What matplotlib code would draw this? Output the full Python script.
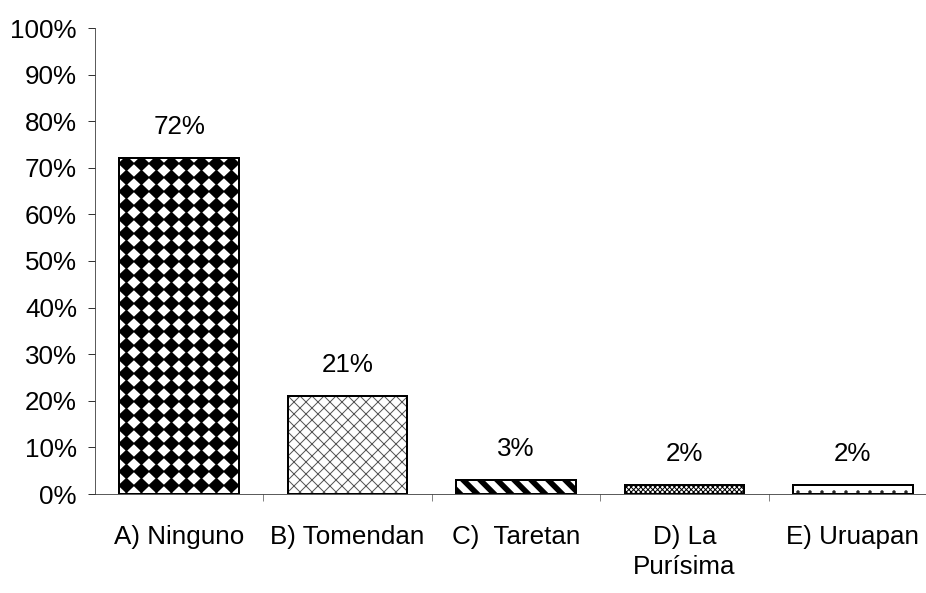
import numpy as np
import matplotlib
matplotlib.use('Agg')
import matplotlib.pyplot as plt
from matplotlib.collections import PolyCollection
from matplotlib.ticker import FuncFormatter

plt.rcParams['font.family'] = ['Liberation Sans', 'DejaVu Sans']
plt.rcParams['hatch.linewidth'] = 1.0

categories = ['A) Ninguno', 'B) Tomendan', 'C)  Taretan', 'D) La\nPurísima', 'E) Uruapan']
values = [72, 21, 3, 2, 2]
value_labels = ['72%', '21%', '3%', '2%', '2%']

W, H = 926, 593
fig = plt.figure(figsize=(W/72, H/72), dpi=72)
# axes: y axis at x=95px, zero line at y=494px, 100% at y=28px
ax = fig.add_axes([95/W, 99/H, 842/W, 466/H])
ax.set_xlim(-0.5, 4.5)
ax.set_ylim(0, 100)

# pixel -> data factors
px_x = 5/842
px_y = 100/466

x = np.arange(len(values))
bw = 0.71
# white base
ax.bar(x, values, width=bw, color='white', edgecolor='none', zorder=1)
# outlines on top
bars = ax.bar(x, values, width=bw, facecolor='none', edgecolor='black', linewidth=2, zorder=5)

# A) black diamonds lattice
b = bars[0]
x0, x1 = b.get_x(), b.get_x() + b.get_width()
top = b.get_height()
dx, dy = 15*px_x, 14*px_y
hx, hy = 8.3*px_x, 7.9*px_y
polys = []
for cx in np.arange(x0 + 7*px_x, x1 + dx, dx):
    for cy in np.arange(top - 5*px_y, -dy, -dy):
        polys.append([(cx-hx, cy), (cx, cy+hy), (cx+hx, cy), (cx, cy-hy)])
pc = PolyCollection(polys, facecolors='black', edgecolors='none', zorder=2)
ax.add_collection(pc)
pc.set_clip_path(b)

# C) thick diagonal stripes
b = bars[2]
x0, x1 = b.get_x(), b.get_x() + b.get_width()
h = b.get_height()
hpx = h/px_y
polys = []
sp = 17*px_x
wd = 8*px_x
for sx in np.arange(x0 - hpx*px_x - sp, x1 + sp, sp):
    polys.append([(sx, h), (sx+wd, h), (sx+wd+hpx*px_x, 0), (sx+hpx*px_x, 0)])
pc = PolyCollection(polys, facecolors='black', edgecolors='none', zorder=2)
ax.add_collection(pc)
pc.set_clip_path(b)

# hatched fills for B, D, E
ax.bar(x[1], values[1], width=bw, facecolor='none', edgecolor='#555555',
       linewidth=0, hatch='xx', zorder=3)
ax.bar(x[3], values[3], width=bw, facecolor='none', edgecolor='black',
       linewidth=0, hatch='xxxxx', zorder=3)
ax.bar(x[4], values[4], width=bw, facecolor='none', edgecolor='#222222',
       linewidth=0, hatch='.', zorder=3)

for xi, v, lab in zip(x, values, value_labels):
    ax.annotate(lab, (xi, v), xytext=(0, 24), textcoords='offset points',
                ha='center', va='baseline', fontsize=26)

ax.spines['top'].set_visible(False)
ax.spines['right'].set_visible(False)
ax.spines['left'].set_color('#333333')
ax.spines['bottom'].set_color('#333333')

ax.set_yticks(np.arange(0, 101, 10))
ax.yaxis.set_major_formatter(FuncFormatter(lambda v, p: '%d%%' % v))
ax.tick_params(axis='y', direction='out', length=7, width=1, color='#333333', pad=11, labelsize=26)

ax.set_xticks(x)
ax.set_xticklabels(categories)
ax.set_xticks(np.arange(0.5, 4.0, 1.0), minor=True)
ax.tick_params(axis='x', which='major', length=0, pad=31, labelsize=26)
ax.tick_params(axis='x', which='minor', direction='out', length=7, color='#333333')
for t in ax.get_xticklabels():
    t.set_linespacing(1.3)

fig.savefig('out.png', dpi=72)
